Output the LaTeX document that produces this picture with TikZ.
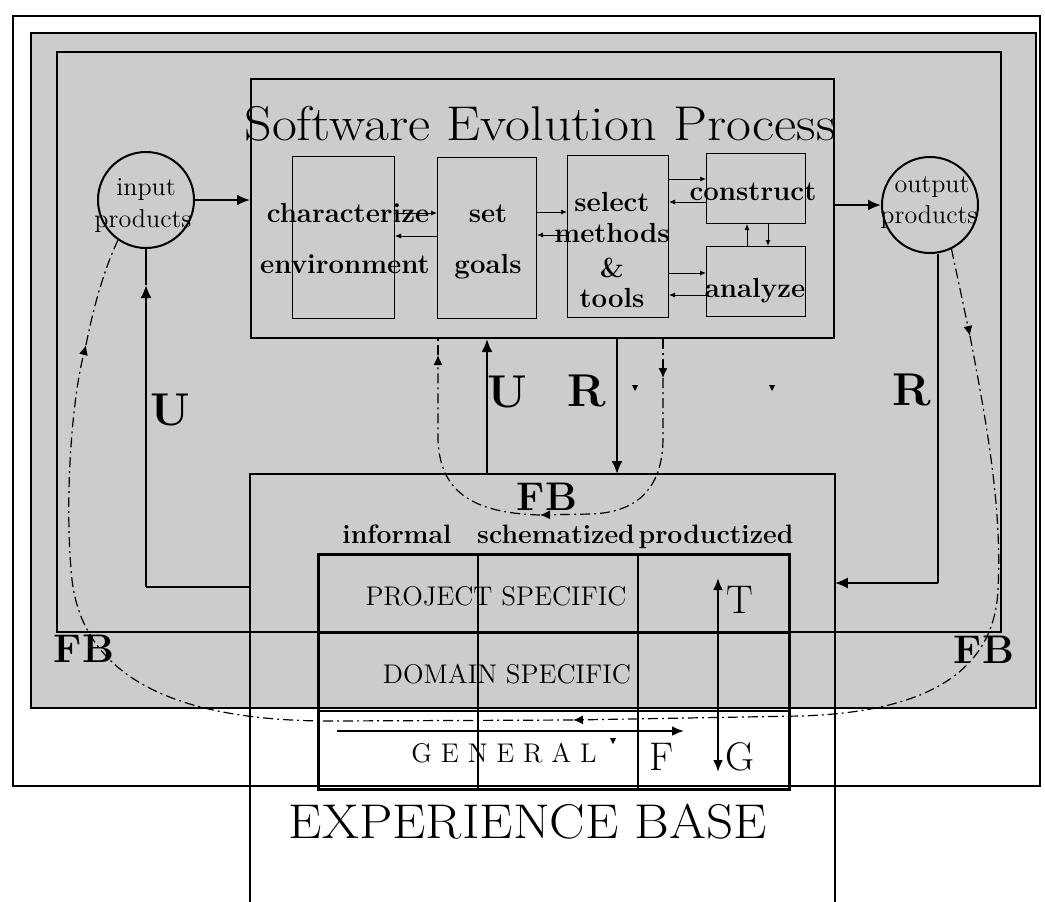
\documentclass[tikz,border=0pt]{standalone}
\usepackage{fontspec}
\usetikzlibrary{arrows.meta}
\begin{document}
\begin{tikzpicture}[x=0.5pt,y=-0.5pt,
  frame/.style={line width=0.7pt},
  bx/.style={draw,line width=1pt,inner sep=0pt,anchor=north west},
  sub/.style={draw,line width=0.5pt,inner sep=0pt,anchor=north west},
  conn/.style={line width=1pt,-{Latex[length=6.5pt,width=5.5pt]}},
  plain/.style={line width=1pt},
  sm/.style={line width=0.5pt,-{Latex[length=3pt,width=2.6pt]}},
  fb/.style={line width=0.6pt,dash pattern=on 5pt off 2pt on 1pt off 2pt},
  fbh/.style={fb,-{Latex[length=5pt,width=4.5pt]}},
  lbl/.style={inner sep=0pt,anchor=base,font=\fontsize{13.8}{16}\selectfont\bfseries},
  hdr/.style={inner sep=0pt,anchor=base,font=\fontsize{13.3}{16}\selectfont\bfseries},
  rowl/.style={inner sep=0pt,anchor=base,font=\fontsize{13.5}{16}\selectfont},
  big/.style={inner sep=0pt,anchor=base,font=\fontsize{23}{27}\selectfont\bfseries},
  fbl/.style={inner sep=0pt,anchor=base,font=\fontsize{20}{24}\selectfont\bfseries},
  letr/.style={inner sep=0pt,anchor=base,font=\fontsize{20}{24}\selectfont\addfontfeatures{FakeBold=2}},
  circtxt/.style={inner sep=0pt,anchor=base,font=\fontsize{13}{16}\selectfont\addfontfeatures{FakeBold=1}},
  tri/.style={fill=black}]
\useasboundingbox (0,0) rectangle (1045,901);
\fill[white] (0,0) rectangle (1045,901);
% frames
\draw[frame,fill=white] (13,16) rectangle (1040,786);
\draw[frame,fill=black!20] (31,33) rectangle (1036,708);
\draw[frame] (57,52) rectangle (1001,632);
% process box
\node[bx,minimum width=291.5pt,minimum height=129.5pt] (proc) at (250,78) {};
\node[inner sep=0pt,anchor=base] (title) at (540,140) {\scalebox{1.11}[1]{\fontsize{24.4}{28}\selectfont\addfontfeatures{FakeBold=2.5}Software Evolution Process}};
\node[sub,minimum width=51pt,minimum height=81pt] (char) at (292,156) {};
\node[sub,minimum width=49.5pt,minimum height=80.5pt] (goals) at (437,157) {};
\node[sub,minimum width=50.5pt,minimum height=81pt] (sel) at (567,155) {};
\node[sub,minimum width=49.5pt,minimum height=35pt] (cons) at (706,153) {};
\node[sub,minimum width=49.5pt,minimum height=35pt] (ana) at (706,246) {};
\node[lbl] (t1) at (348,222) {characterize};
\node[lbl] (t2) at (345,273) {environment};
\node[lbl] (t3) at (488,222) {set};
\node[lbl] (t4) at (488,273) {goals};
\node[lbl] (t5) at (612,211) {select};
\node[lbl] (t6) at (612,242) {methods};
\node[lbl] (t7) at (612,277) {\&};
\node[lbl] (t8) at (612,307) {tools};
\node[lbl] (t9) at (753,200) {construct};
\node[lbl] (t10) at (755,297) {analyze};
% small arrows
\draw[sm] (char.east |- 0,213) -- (goals.west |- 0,213);
\draw[sm] (goals.west |- 0,236) -- (char.east |- 0,236);
\draw[sm] (goals.east |- 0,212) -- (sel.west |- 0,212);
\draw[sm] (sel.west |- 0,235) -- (goals.east |- 0,235);
\draw[sm] (sel.east |- 0,179) -- (cons.west |- 0,179);
\draw[sm] (cons.west |- 0,202) -- (sel.east |- 0,202);
\draw[sm] (sel.east |- 0,273) -- (ana.west |- 0,273);
\draw[sm] (ana.west |- 0,295) -- (sel.east |- 0,295);
\draw[sm] (ana.north -| 747,0) -- (cons.south -| 747,0);
\draw[sm] (cons.south -| 768,0) -- (ana.north -| 768,0);
% circles
\node[circle,draw,line width=1pt,minimum size=48pt,inner sep=0pt] (inp) at (146,200) {};
\node[circtxt] (inpt1) at (146,195) {input};
\node[circtxt] (inpt2) at (143,227) {products};
\node[circle,draw,line width=1pt,minimum size=48pt,inner sep=0pt] (outp) at (930,205) {};
\node[circtxt] (outt1) at (932,192) {output};
\node[circtxt] (outt2) at (929,223) {products};
% experience base
\node[inner sep=0pt,anchor=north west,minimum width=292pt,minimum height=213.5pt] (eb) at (250,474) {};
\draw[line width=1pt] (eb.south west) -- (eb.north west) -- (eb.north east) -- (eb.south east);
\node[inner sep=0pt,anchor=base] (ebt) at (528,838) {\scalebox{1.09}[1]{\fontsize{24.4}{28}\selectfont\addfontfeatures{FakeBold=1.5}EXPERIENCE BASE}};
% grid
\node[draw,line width=1.5pt,inner sep=0pt,anchor=north west,minimum width=235.5pt,minimum height=117.5pt] (grid) at (317,553) {};
\draw[line width=1pt] (grid.north -| 478,0) -- (grid.south -| 478,0);
\draw[line width=1pt] (grid.north -| 638,0) -- (grid.south -| 638,0);
\draw[line width=1pt] (grid.west |- 0,633) -- (grid.east |- 0,633);
\draw[line width=1pt] (grid.west |- 0,711) -- (grid.east |- 0,711);
\node[hdr] (h1) at (397,543) {informal};
\node[hdr] (h2) at (556,543) {schematized};
\node[hdr] (h3) at (716,543) {productized};
\node[rowl] (r1) at (496,605) {PROJECT SPECIFIC};
\node[rowl] (r2) at (507,683) {DOMAIN SPECIFIC};
\node[rowl] (r3) at (504,762) {G E N E R A L};
\node[letr] (lT) at (740,613) {T};
\node[letr] (lF) at (662,770) {F};
\node[letr] (lG) at (740,770) {G};
\coordinate (tgT) at (718,578);
\coordinate (tgB) at (718,772);
\draw[line width=1.2pt,{Latex[length=6pt,width=5pt]}-{Latex[length=6pt,width=5pt]}] (tgB) -- (tgT);
\coordinate (fa) at (337,731);
\coordinate (fb) at (684,731);
\draw[line width=1.3pt,-{Latex[length=6pt,width=5pt]}] (fa) -- (fb);
% main connectors
\draw[conn] (inp.east) -- (inp.east -| proc.west);
\draw[conn] (proc.east |- outp.west) -- (outp.west);
\coordinate (uL) at (146,587);
\coordinate (uLt) at (146,285);
\draw[plain] (eb.west |- uL) -- (uL);
\draw[conn] (uL) -- (uLt);
\draw[plain] (uLt) -- (inp.south);
\coordinate (ux) at (487,0);
\draw[conn] (eb.north -| ux) -- (proc.south -| ux);
\coordinate (rx) at (617,0);
\draw[conn] (proc.south -| rx) -- (eb.north -| rx);
\coordinate (rr) at (938,583);
\draw[plain] (outp.south -| rr) -- (rr);
\draw[conn] (rr) -- (eb.east |- rr);
\node[big] (lU1) at (170,425) {U};
\node[big] (lU2) at (507,407) {U};
\node[big] (lR1) at (587,406) {R};
\node[big] (lR2) at (912,405) {R};
\node[fbl] (fb1) at (547,510) {FB};
\node[fbl] (fb2) at (84,662) {FB};
\node[fbl] (fb3) at (984,663) {FB};
% FB loops
\coordinate (fbA) at (970,336);
\coordinate (fbB) at (573,720);
\coordinate (fbC) at (86,345);
\draw[fbh] (outp.296) -- (fbA);
\draw[fbh] (fbA) .. controls (988,430) and (1002,510) .. (998,590) .. controls (994,670) and (930,712) .. (800,716) -- (fbB);
\draw[fbh] (fbB) -- (330,721) .. controls (200,721) and (85,690) .. (72,580) .. controls (64,500) and (72,400) .. (fbC);
\draw[fb] (fbC) .. controls (94,305) and (104,270) .. (inp.235);
\coordinate (sA) at (663,378);
\coordinate (sB) at (540,515);
\coordinate (sC) at (438,355);
\draw[fbh] (proc.south -| sA) -- (sA);
\draw[fbh] (sA) -- (663,440) .. controls (662,495) and (630,513) .. (590,514) -- (sB);
\draw[fbh] (sB) .. controls (470,513) and (440,490) .. (438,440) -- (sC);
\draw[fb] (sC) -- (proc.south -| sC);
% stray marks
\fill[tri] (632,385) -- (638,385) -- (635,391) -- cycle;
\fill[tri] (769,385) -- (775,385) -- (772,391) -- cycle;
\fill[tri] (610,738) -- (616,738) -- (613,744) -- cycle;
\end{tikzpicture}
\end{document}
